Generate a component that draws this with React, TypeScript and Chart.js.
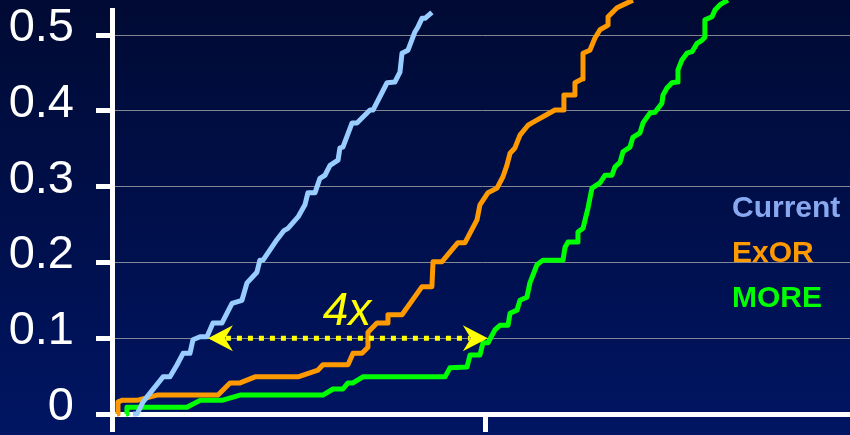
import { useEffect, useRef } from 'react';
import Chart from 'chart.js/auto';

// CDF curves (x in arbitrary throughput units, tick every 200)
const currentX = [11.2, 13.4, 16.6, 27.3, 31.0, 34.8, 38.0, 41.7, 43.3, 47.1, 50.8, 54.0, 58.8, 61.5, 64.2, 69.5, 72.2, 77.5, 79.1, 80.8, 88.2, 92.0, 94.1, 99.5, 103.2, 104.8, 108.6, 111.2, 113.9, 116.6, 120.9, 121.9, 123.5, 128.4, 131.0, 138.0, 139.6, 147.1, 151.3, 154.0, 155.1, 158.3, 162.0, 163.7, 165.8, 167.4, 171.1];
const currentY = [0, 0, 0.016, 0.049, 0.049, 0.065, 0.080, 0.080, 0.098, 0.102, 0.102, 0.120, 0.120, 0.133, 0.146, 0.150, 0.173, 0.187, 0.203, 0.203, 0.230, 0.242, 0.245, 0.260, 0.276, 0.292, 0.292, 0.311, 0.315, 0.328, 0.335, 0.351, 0.352, 0.384, 0.384, 0.401, 0.401, 0.437, 0.438, 0.451, 0.476, 0.480, 0.504, 0.511, 0.522, 0.522, 0.530];

const exorX = [2.7, 3.2, 5.3, 13.4, 24.1, 56.7, 63.1, 68.5, 76.5, 99.5, 110.2, 112.8, 126.2, 128.9, 133.7, 136.9, 136.9, 141.7, 147.1, 147.6, 155.1, 165.8, 171.1, 171.7, 176.5, 185.0, 188.8, 195.2, 196.8, 201.1, 205.9, 209.1, 211.2, 212.9, 215.5, 218.2, 222.5, 224.6, 236.9, 241.7, 241.7, 247.6, 247.6, 251.4, 251.9, 255.6, 258.3, 261.0, 265.3, 265.3, 270.1, 278.6];
const exorY = [0, 0.016, 0.018, 0.018, 0.025, 0.025, 0.041, 0.041, 0.049, 0.049, 0.058, 0.065, 0.065, 0.080, 0.080, 0.088, 0.108, 0.120, 0.120, 0.131, 0.131, 0.168, 0.168, 0.201, 0.201, 0.226, 0.226, 0.256, 0.276, 0.292, 0.298, 0.313, 0.328, 0.344, 0.351, 0.368, 0.381, 0.384, 0.401, 0.401, 0.421, 0.421, 0.437, 0.442, 0.476, 0.480, 0.496, 0.507, 0.513, 0.524, 0.536, 0.546];

const moreX = [7.5, 8.0, 40.1, 47.1, 58.8, 68.5, 112.8, 118.2, 123.5, 126.2, 128.9, 134.2, 178.1, 180.8, 189.9, 191.5, 196.8, 198.4, 201.1, 204.8, 207.5, 211.8, 212.9, 216.6, 218.2, 221.9, 223.5, 226.2, 227.3, 230.5, 241.2, 242.3, 243.9, 248.7, 249.2, 251.9, 254.6, 256.7, 261.0, 263.7, 267.4, 269.0, 271.7, 273.3, 277.0, 278.6, 282.4, 284.0, 287.7, 290.4, 294.1, 294.7, 296.8, 299.5, 302.2, 302.7, 304.8, 307.5, 310.2, 312.9, 315.5, 317.1, 317.1, 320.9, 322.5, 325.2, 329.4];
const moreY = [0, 0.009, 0.009, 0.018, 0.018, 0.025, 0.025, 0.033, 0.033, 0.041, 0.041, 0.049, 0.049, 0.061, 0.062, 0.078, 0.078, 0.094, 0.094, 0.111, 0.117, 0.117, 0.133, 0.137, 0.150, 0.154, 0.173, 0.190, 0.197, 0.203, 0.203, 0.220, 0.227, 0.227, 0.240, 0.245, 0.272, 0.298, 0.305, 0.315, 0.315, 0.326, 0.332, 0.346, 0.352, 0.365, 0.371, 0.384, 0.397, 0.398, 0.410, 0.421, 0.430, 0.437, 0.438, 0.454, 0.467, 0.476, 0.478, 0.489, 0.493, 0.497, 0.520, 0.524, 0.533, 0.540, 0.546];

const seriesNames = ['Current', 'ExOR', 'MORE'];
const lineColors = ['#99ccff', '#ff9900', '#00ff00'];
const legendColors = ['#88a8f0', '#ff9900', '#00ff00'];

const yTicks = [0, 0.1, 0.2, 0.3, 0.4, 0.5];
const xTicks = [0, 200];

// the "4x" annotation: arrow between Current and MORE at the 0.1 level
const arrowLevel = 0.1;
const arrowFrom = 51.3;
const arrowTo = 201.0;
const gapLabel = '4x';
const gapLabelAt = { x: 125.7, y: 0.117 };

const FONT = '"Liberation Sans", Arial, sans-serif';

const toPoints = (xs: number[], ys: number[]) => xs.map((x, i) => ({ x, y: ys[i] }));

const App = () => {
  const chartRef = useRef<HTMLCanvasElement>(null);
  const chartInstance = useRef<Chart | null>(null);

  useEffect(() => {
    document.body.style.margin = '0';
    if (!chartRef.current) return;
    if (chartInstance.current) chartInstance.current.destroy();

    const background = {
      id: 'background',
      beforeDraw(chart: any) {
        const { ctx, width, height } = chart;
        const g = ctx.createLinearGradient(0, 0, 0, height);
        g.addColorStop(0, '#000a33');
        g.addColorStop(1, '#001563');
        ctx.save();
        ctx.fillStyle = g;
        ctx.fillRect(0, 0, width, height);
        ctx.restore();
      },
    };

    const drawHead = (ctx: CanvasRenderingContext2D, tipX: number, y: number, dir: number) => {
      ctx.beginPath();
      ctx.moveTo(tipX, y);
      ctx.lineTo(tipX + dir * 25, y - 13);
      ctx.lineTo(tipX + dir * 17, y);
      ctx.lineTo(tipX + dir * 25, y + 13);
      ctx.closePath();
      ctx.fill();
    };

    const annotations = {
      id: 'annotations',
      afterDatasetsDraw(chart: any) {
        const { ctx, scales, chartArea } = chart;
        const xs = scales.x;
        const ys = scales.y;
        const y = ys.getPixelForValue(arrowLevel);
        const x1 = xs.getPixelForValue(arrowFrom);
        const x2 = xs.getPixelForValue(arrowTo);
        ctx.save();
        ctx.strokeStyle = '#ffff00';
        ctx.fillStyle = '#ffff00';
        ctx.lineWidth = 5;
        ctx.setLineDash([5, 6]);
        ctx.beginPath();
        ctx.moveTo(x1 + 18, y);
        ctx.lineTo(x2 - 18, y);
        ctx.stroke();
        ctx.setLineDash([]);
        drawHead(ctx, x1, y, 1);
        drawHead(ctx, x2, y, -1);

        ctx.font = `italic 46px ${FONT}`;
        ctx.textAlign = 'center';
        ctx.textBaseline = 'alphabetic';
        ctx.fillText(gapLabel, xs.getPixelForValue(gapLabelAt.x), ys.getPixelForValue(gapLabelAt.y));

        // legend as coloured text
        ctx.font = `bold 30px ${FONT}`;
        ctx.textAlign = 'left';
        seriesNames.forEach((name, i) => {
          ctx.fillStyle = legendColors[i];
          ctx.fillText(name, chartArea.right - 118, 217 + i * 45);
        });
        ctx.restore();
      },
    };

    const datasets = [
      toPoints(currentX, currentY),
      toPoints(exorX, exorY),
      toPoints(moreX, moreY),
    ].map((data, i) => ({
      label: seriesNames[i],
      data,
      borderColor: lineColors[i],
      backgroundColor: lineColors[i],
      borderWidth: 5,
      borderJoinStyle: 'round' as const,
      pointRadius: 0,
      tension: 0,
      clip: false as const,
    }));

    chartInstance.current = new Chart(chartRef.current, {
      type: 'line',
      data: { datasets },
      options: {
        animation: false,
        responsive: true,
        maintainAspectRatio: false,
        layout: { padding: { top: 10, right: 0, left: 0, bottom: 0 } },
        plugins: { legend: { display: false }, tooltip: { enabled: false } },
        scales: {
          x: {
            type: 'linear',
            min: 0,
            max: 394.7,
            ticks: { display: false },
            afterBuildTicks: (scale: any) => {
              scale.ticks = xTicks.map((value) => ({ value }));
            },
            afterFit: (scale: any) => {
              scale.height = 21;
              scale.paddingLeft = 0;
              scale.paddingRight = 0;
              scale.paddingTop = 0;
              scale.paddingBottom = 0;
            },
            grid: {
              drawOnChartArea: false,
              drawTicks: true,
              tickLength: 18,
              tickColor: '#ffffff',
              tickWidth: 5,
            },
            border: { display: true, color: '#ffffff', width: 5 },
          },
          y: {
            min: 0,
            max: 0.533,
            ticks: {
              color: '#ffffff',
              padding: 22,
              labelOffset: -7,
              font: { family: FONT, size: 47 },
              callback: (v: any) => String(Math.round(Number(v) * 10) / 10),
            },
            afterBuildTicks: (scale: any) => {
              scale.ticks = yTicks.map((value) => ({ value }));
            },
            afterFit: (scale: any) => {
              scale.width = 112;
              scale.paddingLeft = 0;
              scale.paddingRight = 0;
              scale.paddingTop = 0;
              scale.paddingBottom = 0;
            },
            grid: {
              color: 'rgba(175,175,175,0.75)',
              lineWidth: 1,
              tickLength: 16,
              tickColor: '#ffffff',
              tickWidth: 5,
            },
            border: { display: true, color: '#ffffff', width: 5 },
          },
        },
      },
      plugins: [background, annotations],
    });

    return () => {
      if (chartInstance.current) {
        chartInstance.current.destroy();
        chartInstance.current = null;
      }
    };
  }, []);

  return (
    <div style={{ width: 850, height: 435, position: 'relative' }}>
      <canvas ref={chartRef} />
    </div>
  );
};

export default App;
